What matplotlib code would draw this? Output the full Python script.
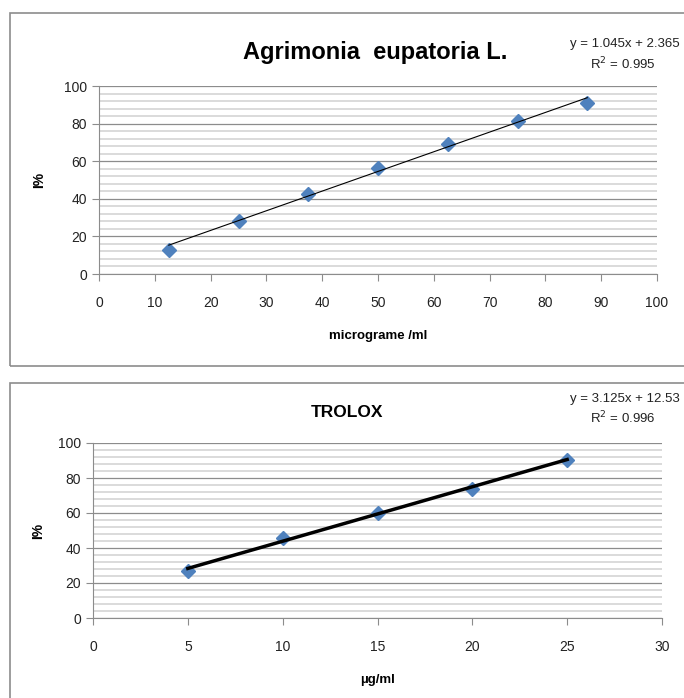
import matplotlib.pyplot as plt
from matplotlib.patches import Rectangle
from matplotlib.ticker import MultipleLocator
import numpy as np

plt.rcParams['font.family'] = ['Liberation Sans', 'DejaVu Sans']

# data
agri_conc = [12.5, 25, 37.5, 50, 62.5, 75, 87.5]
agri_inh = [13.0, 28.3, 42.7, 56.6, 69.0, 81.5, 90.8]
trolox_conc = [5, 10, 15, 20, 25]
trolox_inh = [26.7, 46.0, 60.0, 74.0, 90.5]

W, H = 684, 698
fig = plt.figure(figsize=(W / 100, H / 100), dpi=100)


def box(x0, y0, x1, y1):
    # pixel coords (top-left origin) -> figure fraction
    return [x0 / W, 1 - y1 / H, (x1 - x0) / W, (y1 - y0) / H]


def panel(ax, x, y, xmax, xstep, xlabel, lw, ylab_x):
    ax.set_xlim(0, xmax)
    ax.set_ylim(0, 100)
    ax.xaxis.set_major_locator(MultipleLocator(xstep))
    ax.yaxis.set_major_locator(MultipleLocator(20))
    ax.yaxis.set_minor_locator(MultipleLocator(4))
    ax.grid(axis='y', which='major', color='#8c8c8c', lw=0.9)
    ax.grid(axis='y', which='minor', color='#d4d4d4', lw=1.2)
    ax.tick_params(axis='y', which='minor', length=0)
    ax.tick_params(axis='both', which='major', colors='#8c8c8c', length=5,
                   labelcolor='#222222', labelsize=10)
    ax.tick_params(axis='x', pad=11)
    ax.set_axisbelow(True)
    for s in ['top', 'right']:
        ax.spines[s].set_visible(False)
    for s in ['left', 'bottom']:
        ax.spines[s].set_color('#8c8c8c')
    ax.plot(x, y, ls='none', marker='D', ms=7, color='#4f81bd', zorder=3)
    slope, icpt = np.polyfit(x, y, 1)
    xs = np.array([x[0], x[-1]])
    ax.plot(xs, slope * xs + icpt, color='black', lw=lw, zorder=4)
    ax.set_xlabel(xlabel, fontsize=9.5, fontweight='bold', labelpad=14)
    ax.set_ylabel('I%', fontsize=10, fontweight='bold')
    ax.yaxis.set_label_coords(ylab_x, 0.5)
    return ax


# panel frames
fig.patches.append(Rectangle((10 / W, 1 - 366 / H), 700 / W, 353 / H,
                             transform=fig.transFigure, fill=False,
                             ec='#8c8c8c', lw=1.2))
fig.patches.append(Rectangle((10 / W, 1 - 720 / H), 700 / W, 337 / H,
                             transform=fig.transFigure, fill=False,
                             ec='#8c8c8c', lw=1.2))

ax1 = fig.add_axes(box(99, 86, 657, 274))
panel(ax1, agri_conc, agri_inh, 100, 10, 'micrograme /ml', 0.8, -0.095)
fig.text(375 / W, 1 - 53 / H, 'Agrimonia  eupatoria L.', fontsize=17,
         fontweight='bold', ha='center', va='center')
fig.text(680 / W, 1 - 44 / H, 'y = 1.045x + 2.365', fontsize=9.5,
         ha='right', va='center', color='#222222')
fig.text(656 / W, 1 - 64 / H, 'R$^2$ = 0.995', fontsize=9.5,
         ha='right', va='center', color='#222222')

ax2 = fig.add_axes(box(93, 443, 662, 618))
panel(ax2, trolox_conc, trolox_inh, 30, 5, 'µg/ml', 2.5, -0.085)
fig.text(347 / W, 1 - 412 / H, 'TROLOX', fontsize=12.5, fontweight='bold',
         ha='center', va='center')
fig.text(680 / W, 1 - 399 / H, 'y = 3.125x + 12.53', fontsize=9.5,
         ha='right', va='center', color='#222222')
fig.text(656 / W, 1 - 418 / H, 'R$^2$ = 0.996', fontsize=9.5,
         ha='right', va='center', color='#222222')

fig.savefig('out.png', dpi=100, facecolor='white')
